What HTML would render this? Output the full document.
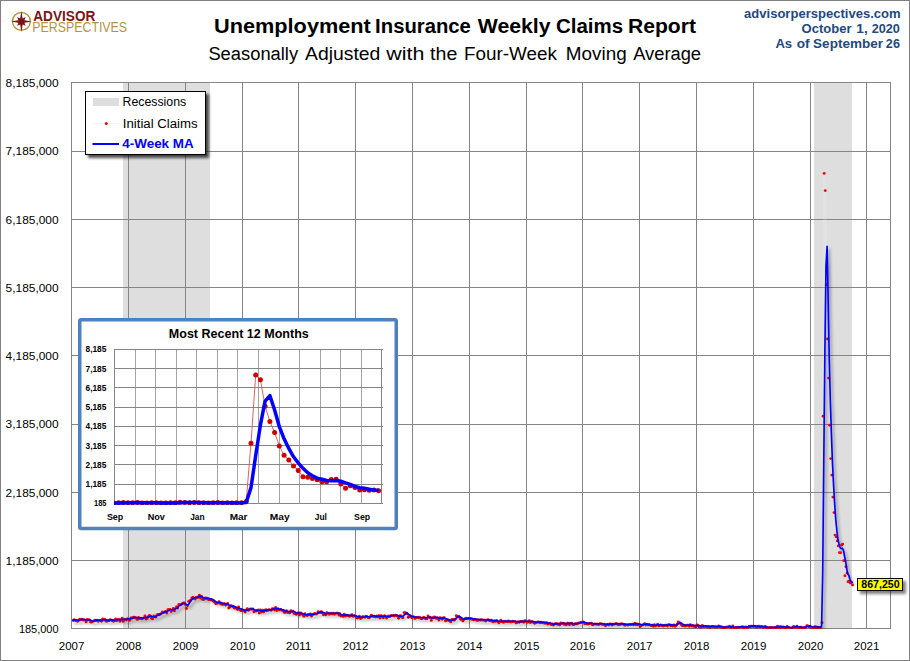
<!DOCTYPE html>
<html lang="en"><head><meta charset="utf-8"><title>Unemployment Insurance Weekly Claims Report</title>
<style>html,body{margin:0;padding:0;background:#fff}body{width:910px;height:661px;overflow:hidden}svg{display:block}text{font-family:"Liberation Sans",sans-serif}</style></head><body>
<svg width="910" height="661" viewBox="0 0 910 661">
<defs><filter id="sh" x="-5%" y="-5%" width="110%" height="115%"><feGaussianBlur in="SourceAlpha" stdDeviation="1.8"/><feOffset dx="2.3" dy="3.3"/><feComponentTransfer><feFuncA type="linear" slope="0.40"/></feComponentTransfer><feMerge><feMergeNode/><feMergeNode in="SourceGraphic"/></feMerge></filter><filter id="shb" x="-20%" y="-20%" width="150%" height="160%"><feGaussianBlur in="SourceAlpha" stdDeviation="1.6"/><feOffset dx="3" dy="3"/><feComponentTransfer><feFuncA type="linear" slope="0.7"/></feComponentTransfer><feMerge><feMergeNode/><feMergeNode in="SourceGraphic"/></feMerge></filter><filter id="shc" x="-20%" y="-40%" width="150%" height="220%"><feGaussianBlur in="SourceAlpha" stdDeviation="1.7"/><feOffset dx="3" dy="3"/><feComponentTransfer><feFuncA type="linear" slope="0.5"/></feComponentTransfer><feMerge><feMergeNode/><feMergeNode in="SourceGraphic"/></feMerge></filter><clipPath id="cp"><rect x="71" y="82" width="820" height="547"/></clipPath><clipPath id="ci"><rect x="114" y="345" width="269" height="160"/></clipPath></defs>
<rect x="0" y="0" width="910" height="661" fill="#fff"/>
<g fill="#dedede"><rect x="123" y="83" width="87" height="545"/><rect x="814" y="83" width="38" height="545"/></g>
<g fill="#858585" shape-rendering="crispEdges">
<rect x="71" y="82" width="1" height="547"/>
<rect x="128" y="82" width="1" height="547"/>
<rect x="185" y="82" width="1" height="547"/>
<rect x="242" y="82" width="1" height="547"/>
<rect x="298" y="82" width="1" height="547"/>
<rect x="355" y="82" width="1" height="547"/>
<rect x="412" y="82" width="1" height="547"/>
<rect x="469" y="82" width="1" height="547"/>
<rect x="526" y="82" width="1" height="547"/>
<rect x="582" y="82" width="1" height="547"/>
<rect x="639" y="82" width="1" height="547"/>
<rect x="696" y="82" width="1" height="547"/>
<rect x="753" y="82" width="1" height="547"/>
<rect x="810" y="82" width="1" height="547"/>
<rect x="866" y="82" width="1" height="547"/>
<rect x="890" y="82" width="1" height="547"/>
<rect x="71" y="82" width="820" height="1"/>
<rect x="71" y="151" width="820" height="1"/>
<rect x="71" y="219" width="820" height="1"/>
<rect x="71" y="287" width="820" height="1"/>
<rect x="71" y="355" width="820" height="1"/>
<rect x="71" y="424" width="820" height="1"/>
<rect x="71" y="492" width="820" height="1"/>
<rect x="71" y="560" width="820" height="1"/>
<rect x="71" y="628" width="820" height="1"/>
</g>
<g font-size="10.9px" fill="#000" text-anchor="end">
<text x="58.6" y="87.05" textLength="53.0" lengthAdjust="spacingAndGlyphs">8,185,000</text>
<text x="58.6" y="155.30" textLength="53.0" lengthAdjust="spacingAndGlyphs">7,185,000</text>
<text x="58.6" y="223.55" textLength="53.0" lengthAdjust="spacingAndGlyphs">6,185,000</text>
<text x="58.6" y="291.80" textLength="53.0" lengthAdjust="spacingAndGlyphs">5,185,000</text>
<text x="58.6" y="360.05" textLength="53.0" lengthAdjust="spacingAndGlyphs">4,185,000</text>
<text x="58.6" y="428.30" textLength="53.0" lengthAdjust="spacingAndGlyphs">3,185,000</text>
<text x="58.6" y="496.55" textLength="53.0" lengthAdjust="spacingAndGlyphs">2,185,000</text>
<text x="58.6" y="564.80" textLength="53.0" lengthAdjust="spacingAndGlyphs">1,185,000</text>
<text x="58.6" y="633.05" textLength="39.7" lengthAdjust="spacingAndGlyphs">185,000</text>
</g>
<g font-size="10.9px" fill="#000" text-anchor="middle">
<text x="71.6" y="649.8" textLength="25.6" lengthAdjust="spacingAndGlyphs">2007</text>
<text x="128.6" y="649.8" textLength="25.6" lengthAdjust="spacingAndGlyphs">2008</text>
<text x="185.6" y="649.8" textLength="25.6" lengthAdjust="spacingAndGlyphs">2009</text>
<text x="242.6" y="649.8" textLength="25.6" lengthAdjust="spacingAndGlyphs">2010</text>
<text x="298.6" y="649.8" textLength="25.6" lengthAdjust="spacingAndGlyphs">2011</text>
<text x="355.6" y="649.8" textLength="25.6" lengthAdjust="spacingAndGlyphs">2012</text>
<text x="412.6" y="649.8" textLength="25.6" lengthAdjust="spacingAndGlyphs">2013</text>
<text x="469.6" y="649.8" textLength="25.6" lengthAdjust="spacingAndGlyphs">2014</text>
<text x="526.6" y="649.8" textLength="25.6" lengthAdjust="spacingAndGlyphs">2015</text>
<text x="582.6" y="649.8" textLength="25.6" lengthAdjust="spacingAndGlyphs">2016</text>
<text x="639.6" y="649.8" textLength="25.6" lengthAdjust="spacingAndGlyphs">2017</text>
<text x="696.6" y="649.8" textLength="25.6" lengthAdjust="spacingAndGlyphs">2018</text>
<text x="753.6" y="649.8" textLength="25.6" lengthAdjust="spacingAndGlyphs">2019</text>
<text x="810.6" y="649.8" textLength="25.6" lengthAdjust="spacingAndGlyphs">2020</text>
<text x="866.6" y="649.8" textLength="25.6" lengthAdjust="spacingAndGlyphs">2021</text>
</g>
<g clip-path="url(#cp)">
<polyline points="73.2,620.6 74.3,619.8 75.4,620.5 76.4,620.6 77.5,621.2 78.6,620.5 79.7,619.3 80.8,619.9 81.9,619.3 83.0,620.1 84.1,619.9 85.2,620.1 86.2,621.9 87.3,619.5 88.4,619.9 89.5,619.9 90.6,622.1 91.7,622.1 92.8,621.4 93.9,621.0 94.9,620.3 96.0,620.6 97.1,620.1 98.2,621.3 99.3,620.4 100.4,620.4 101.5,621.3 102.6,619.0 103.7,620.1 104.7,619.4 105.8,621.1 106.9,621.2 108.0,620.8 109.1,620.5 110.2,619.8 111.3,620.1 112.4,620.7 113.4,621.2 114.5,620.7 115.6,619.0 116.7,620.8 117.8,619.7 118.9,619.4 120.0,621.2 121.1,619.6 122.2,618.3 123.2,621.4 124.3,619.7 125.4,619.4 126.5,620.0 127.6,618.6 128.7,619.1 129.8,620.3 130.9,618.0 132.0,618.0 133.0,617.7 134.1,617.1 135.2,618.0 136.3,618.1 137.4,619.4 138.5,617.4 139.6,618.5 140.7,618.2 141.7,618.8 142.8,618.4 143.9,617.9 145.0,616.0 146.1,619.1 147.2,618.4 148.3,616.6 149.4,615.4 150.5,616.1 151.5,618.3 152.6,618.7 153.7,615.9 154.8,616.8 155.9,617.0 157.0,614.9 158.1,614.4 159.2,614.8 160.3,614.3 161.3,613.6 162.4,612.0 163.5,612.5 164.6,612.1 165.7,611.5 166.8,613.0 167.9,609.8 169.0,609.6 170.0,609.4 171.1,611.6 172.2,610.1 173.3,608.4 174.4,610.7 175.5,608.6 176.6,606.6 177.7,608.1 178.8,604.5 179.8,604.8 180.9,604.9 182.0,603.9 183.1,603.1 184.2,603.0 185.3,604.4 186.4,608.5 187.5,605.6 188.6,601.4 189.6,601.0 190.7,600.4 191.8,598.1 192.9,597.1 194.0,598.5 195.1,599.0 196.2,597.5 197.3,597.3 198.3,597.2 199.4,595.3 200.5,598.1 201.6,596.5 202.7,599.4 203.8,599.4 204.9,598.3 206.0,598.0 207.1,598.5 208.1,599.2 209.2,599.6 210.3,599.7 211.4,599.5 212.5,600.4 213.6,601.2 214.7,602.1 215.8,603.8 216.9,603.0 217.9,603.1 219.0,601.6 220.1,603.2 221.2,604.1 222.3,604.3 223.4,604.2 224.5,603.6 225.6,605.0 226.6,604.6 227.7,603.5 228.8,608.0 229.9,606.9 231.0,605.8 232.1,606.1 233.2,606.8 234.3,608.0 235.4,607.5 236.4,608.4 237.5,609.5 238.6,607.0 239.7,609.3 240.8,610.5 241.9,610.4 243.0,610.3 244.1,610.1 245.1,612.1 246.2,610.1 247.3,608.8 248.4,610.4 249.5,609.6 250.6,608.9 251.7,609.2 252.8,608.9 253.9,611.8 254.9,610.9 256.0,611.1 257.1,610.5 258.2,610.0 259.3,613.1 260.4,610.0 261.5,612.0 262.6,610.2 263.7,611.9 264.7,610.5 265.8,609.7 266.9,610.7 268.0,610.3 269.1,609.7 270.2,610.1 271.3,610.2 272.4,608.7 273.4,609.0 274.5,610.0 275.6,607.4 276.7,610.5 277.8,608.7 278.9,609.9 280.0,609.9 281.1,609.7 282.2,610.4 283.2,610.4 284.3,612.3 285.4,612.4 286.5,610.8 287.6,612.2 288.7,612.3 289.8,612.8 290.9,610.8 292.0,611.6 293.0,611.3 294.1,613.6 295.2,613.1 296.3,614.4 297.4,613.1 298.5,612.7 299.6,614.9 300.7,613.0 301.7,613.6 302.8,614.7 303.9,616.3 305.0,613.7 306.1,615.1 307.2,615.6 308.3,614.8 309.4,614.9 310.5,614.0 311.5,616.1 312.6,614.4 313.7,614.2 314.8,613.5 315.9,614.1 317.0,613.9 318.1,611.7 319.2,612.5 320.3,612.6 321.3,611.6 322.4,613.0 323.5,614.8 324.6,613.4 325.7,614.8 326.8,612.7 327.9,613.3 329.0,614.2 330.0,613.9 331.1,613.3 332.2,614.1 333.3,613.1 334.4,614.3 335.5,613.5 336.6,613.1 337.7,613.1 338.8,615.0 339.8,613.8 340.9,616.1 342.0,615.5 343.1,616.4 344.2,614.1 345.3,616.1 346.4,615.3 347.5,615.6 348.6,615.7 349.6,616.3 350.7,615.8 351.8,614.7 352.9,616.3 354.0,616.1 355.1,615.9 356.2,617.0 357.3,618.0 358.3,617.5 359.4,616.3 360.5,618.6 361.6,617.9 362.7,616.7 363.8,616.9 364.9,617.3 366.0,616.4 367.1,616.7 368.1,617.6 369.2,617.7 370.3,616.7 371.4,615.2 372.5,616.2 373.6,616.5 374.7,616.5 375.8,617.1 376.8,616.0 377.9,616.9 379.0,615.7 380.1,618.0 381.2,615.8 382.3,616.7 383.4,617.8 384.5,615.6 385.6,616.5 386.6,618.1 387.7,616.9 388.8,616.0 389.9,616.6 391.0,615.6 392.1,615.6 393.2,615.7 394.3,616.0 395.4,615.1 396.4,615.7 397.5,616.0 398.6,618.3 399.7,616.0 400.8,615.8 401.9,617.3 403.0,617.6 404.1,612.7 405.1,612.7 406.2,613.2 407.3,614.0 408.4,617.2 409.5,616.4 410.6,615.9 411.7,617.6 412.8,617.1 413.9,616.9 414.9,618.4 416.0,617.8 417.1,617.5 418.2,617.1 419.3,617.9 420.4,618.0 421.5,618.8 422.6,618.3 423.7,617.3 424.7,618.0 425.8,618.8 426.9,618.8 428.0,616.0 429.1,617.3 430.2,617.7 431.3,620.4 432.4,617.8 433.4,617.9 434.5,616.9 435.6,618.0 436.7,618.4 437.8,618.0 438.9,620.0 440.0,617.6 441.1,618.2 442.2,619.3 443.2,617.9 444.3,617.8 445.4,620.7 446.5,620.4 447.6,619.8 448.7,620.2 449.8,621.0 450.9,621.7 452.0,619.5 453.0,619.4 454.1,620.2 455.2,619.3 456.3,615.8 457.4,616.7 458.5,616.4 459.6,617.5 460.7,619.2 461.7,618.7 462.8,620.9 463.9,619.5 465.0,618.8 466.1,618.1 467.2,618.9 468.3,618.6 469.4,618.4 470.5,618.9 471.5,619.0 472.6,619.4 473.7,619.8 474.8,619.2 475.9,619.7 477.0,620.3 478.1,620.2 479.2,619.9 480.3,620.0 481.3,619.9 482.4,620.1 483.5,620.1 484.6,620.3 485.7,621.1 486.8,620.1 487.9,619.8 489.0,620.2 490.0,620.7 491.1,620.3 492.2,621.3 493.3,621.9 494.4,620.8 495.5,621.4 496.6,620.5 497.7,621.6 498.8,622.7 499.8,621.8 500.9,620.3 502.0,621.6 503.1,622.3 504.2,622.0 505.3,621.3 506.4,621.4 507.5,621.7 508.5,621.0 509.6,621.6 510.7,622.1 511.8,621.8 512.9,621.2 514.0,621.6 515.1,621.6 516.2,622.9 517.3,622.3 518.3,621.7 519.4,622.3 520.5,621.5 521.6,621.8 522.7,621.6 523.8,622.3 524.9,620.6 526.0,621.3 527.1,622.2 528.1,622.1 529.2,620.6 530.3,622.5 531.4,621.8 532.5,621.8 533.6,622.4 534.7,623.2 535.8,622.4 536.8,622.4 537.9,621.9 539.0,622.2 540.1,622.7 541.2,622.3 542.3,622.6 543.4,622.9 544.5,623.0 545.6,623.3 546.6,622.8 547.7,624.0 548.8,623.8 549.9,623.5 551.0,624.5 552.1,624.0 553.2,625.0 554.3,624.3 555.4,623.6 556.4,623.7 557.5,624.2 558.6,624.2 559.7,624.9 560.8,622.9 561.9,623.6 563.0,623.2 564.1,624.4 565.1,623.9 566.2,624.9 567.3,623.2 568.4,623.1 569.5,624.7 570.6,623.6 571.7,623.1 572.8,624.5 573.9,624.5 574.9,624.0 576.0,623.7 577.1,624.1 578.2,623.1 579.3,623.0 580.4,622.7 581.5,622.6 582.6,622.0 583.7,622.2 584.7,623.8 585.8,623.4 586.9,623.9 588.0,624.0 589.1,623.5 590.2,623.5 591.3,623.3 592.4,624.7 593.4,624.5 594.5,623.9 595.6,624.1 596.7,624.3 597.8,624.2 598.9,624.6 600.0,623.7 601.1,623.9 602.2,624.2 603.2,624.6 604.3,624.3 605.4,625.8 606.5,624.7 607.6,624.1 608.7,625.1 609.8,624.0 610.9,624.1 612.0,625.0 613.0,624.3 614.1,624.3 615.2,623.9 616.3,623.8 617.4,624.2 618.5,624.7 619.6,624.3 620.7,624.3 621.7,623.8 622.8,624.1 623.9,624.8 625.0,625.2 626.1,624.6 627.2,624.9 628.3,625.1 629.4,624.5 630.5,624.8 631.5,624.5 632.6,624.2 633.7,624.8 634.8,623.2 635.9,624.8 637.0,624.0 638.1,624.7 639.2,624.1 640.2,626.4 641.3,625.4 642.4,624.9 643.5,624.7 644.6,623.7 645.7,625.0 646.8,624.5 647.9,624.9 649.0,624.8 650.0,625.1 651.1,625.6 652.2,625.2 653.3,626.2 654.4,624.8 655.5,626.1 656.6,625.4 657.7,624.2 658.8,625.7 659.8,625.6 660.9,624.9 662.0,625.6 663.1,626.1 664.2,625.5 665.3,625.3 666.4,625.2 667.5,626.1 668.5,624.6 669.6,624.7 670.7,625.7 671.8,625.6 672.9,626.0 674.0,624.9 675.1,626.2 676.2,625.4 677.3,624.0 678.3,622.0 679.4,622.6 680.5,623.8 681.6,625.1 682.7,625.8 683.8,625.2 684.9,626.0 686.0,625.8 687.1,625.1 688.1,625.3 689.2,626.3 690.3,624.6 691.4,626.0 692.5,625.5 693.6,626.4 694.7,626.0 695.8,627.1 696.8,624.9 697.9,625.2 699.0,626.8 700.1,627.1 701.2,627.2 702.3,625.5 703.4,626.6 704.5,626.4 705.6,626.6 706.6,626.5 707.7,627.2 708.8,626.5 709.9,627.5 711.0,626.7 712.1,626.5 713.2,626.5 714.3,626.9 715.4,627.4 716.4,626.8 717.5,627.2 718.6,626.0 719.7,626.6 720.8,627.2 721.9,627.4 723.0,627.6 724.1,627.8 725.1,627.5 726.2,627.1 727.3,627.0 728.4,627.1 729.5,626.2 730.6,627.9 731.7,627.5 732.8,625.9 733.9,628.8 734.9,628.0 736.0,627.5 737.1,627.4 738.2,627.2 739.3,627.5 740.4,627.1 741.5,627.2 742.6,626.7 743.7,628.2 744.7,627.5 745.8,626.9 746.9,627.5 748.0,627.4 749.1,626.3 750.2,627.0 751.3,626.2 752.4,626.1 753.4,626.4 754.5,626.2 755.6,626.6 756.7,627.4 757.8,626.5 758.9,626.2 760.0,627.0 761.1,626.9 762.2,626.6 763.2,627.8 764.3,627.0 765.4,626.5 766.5,628.2 767.6,627.9 768.7,628.3 769.8,627.4 770.9,628.0 771.9,627.5 773.0,628.3 774.1,627.7 775.2,627.5 776.3,628.4 777.4,626.3 778.5,626.6 779.6,628.3 780.7,626.8 781.7,627.4 782.8,627.0 783.9,627.1 785.0,628.3 786.1,627.5 787.2,626.5 788.3,627.8 789.4,628.1 790.5,628.4 791.5,628.3 792.6,627.4 793.7,626.5 794.8,627.3 795.9,627.4 797.0,626.2 798.1,627.9 799.2,628.0 800.2,627.2 801.3,627.2 802.4,628.2 803.5,628.3 804.6,627.4 805.7,627.4 806.8,625.8 807.9,625.9 809.0,627.0 810.0,626.7 811.1,627.3 812.2,627.6 813.3,627.9 814.4,627.0 815.5,626.8 816.6,627.9 817.7,627.1 818.8,628.1 819.8,627.6 820.9,627.2 822.0,622.8 823.1,416.3 824.2,173.4 825.3,190.6 826.4,284.6 827.5,338.9 828.5,378.1 829.6,425.3 830.7,458.6 831.8,475.1 832.9,497.1 834.0,512.6 835.1,535.1 836.2,536.9 837.3,540.9 838.3,545.9 839.4,552.6 840.5,552.8 841.6,545.0 842.7,544.1 843.8,560.7 844.9,575.8 846.0,566.7 847.1,573.0 848.1,581.7 849.2,581.1 850.3,582.9 851.4,582.4 852.5,584.9" fill="none" stroke="#ffffff" stroke-opacity="0.14" stroke-width="2.4" stroke-linejoin="round"/>
<g fill="#ff0000">
<circle cx="73.2" cy="620.6" r="1.45"/>
<circle cx="74.3" cy="619.8" r="1.45"/>
<circle cx="75.4" cy="620.5" r="1.45"/>
<circle cx="76.4" cy="620.6" r="1.45"/>
<circle cx="77.5" cy="621.2" r="1.45"/>
<circle cx="78.6" cy="620.5" r="1.45"/>
<circle cx="79.7" cy="619.3" r="1.45"/>
<circle cx="80.8" cy="619.9" r="1.45"/>
<circle cx="81.9" cy="619.3" r="1.45"/>
<circle cx="83.0" cy="620.1" r="1.45"/>
<circle cx="84.1" cy="619.9" r="1.45"/>
<circle cx="85.2" cy="620.1" r="1.45"/>
<circle cx="86.2" cy="621.9" r="1.45"/>
<circle cx="87.3" cy="619.5" r="1.45"/>
<circle cx="88.4" cy="619.9" r="1.45"/>
<circle cx="89.5" cy="619.9" r="1.45"/>
<circle cx="90.6" cy="622.1" r="1.45"/>
<circle cx="91.7" cy="622.1" r="1.45"/>
<circle cx="92.8" cy="621.4" r="1.45"/>
<circle cx="93.9" cy="621.0" r="1.45"/>
<circle cx="94.9" cy="620.3" r="1.45"/>
<circle cx="96.0" cy="620.6" r="1.45"/>
<circle cx="97.1" cy="620.1" r="1.45"/>
<circle cx="98.2" cy="621.3" r="1.45"/>
<circle cx="99.3" cy="620.4" r="1.45"/>
<circle cx="100.4" cy="620.4" r="1.45"/>
<circle cx="101.5" cy="621.3" r="1.45"/>
<circle cx="102.6" cy="619.0" r="1.45"/>
<circle cx="103.7" cy="620.1" r="1.45"/>
<circle cx="104.7" cy="619.4" r="1.45"/>
<circle cx="105.8" cy="621.1" r="1.45"/>
<circle cx="106.9" cy="621.2" r="1.45"/>
<circle cx="108.0" cy="620.8" r="1.45"/>
<circle cx="109.1" cy="620.5" r="1.45"/>
<circle cx="110.2" cy="619.8" r="1.45"/>
<circle cx="111.3" cy="620.1" r="1.45"/>
<circle cx="112.4" cy="620.7" r="1.45"/>
<circle cx="113.4" cy="621.2" r="1.45"/>
<circle cx="114.5" cy="620.7" r="1.45"/>
<circle cx="115.6" cy="619.0" r="1.45"/>
<circle cx="116.7" cy="620.8" r="1.45"/>
<circle cx="117.8" cy="619.7" r="1.45"/>
<circle cx="118.9" cy="619.4" r="1.45"/>
<circle cx="120.0" cy="621.2" r="1.45"/>
<circle cx="121.1" cy="619.6" r="1.45"/>
<circle cx="122.2" cy="618.3" r="1.45"/>
<circle cx="123.2" cy="621.4" r="1.45"/>
<circle cx="124.3" cy="619.7" r="1.45"/>
<circle cx="125.4" cy="619.4" r="1.45"/>
<circle cx="126.5" cy="620.0" r="1.45"/>
<circle cx="127.6" cy="618.6" r="1.45"/>
<circle cx="128.7" cy="619.1" r="1.45"/>
<circle cx="129.8" cy="620.3" r="1.45"/>
<circle cx="130.9" cy="618.0" r="1.45"/>
<circle cx="132.0" cy="618.0" r="1.45"/>
<circle cx="133.0" cy="617.7" r="1.45"/>
<circle cx="134.1" cy="617.1" r="1.45"/>
<circle cx="135.2" cy="618.0" r="1.45"/>
<circle cx="136.3" cy="618.1" r="1.45"/>
<circle cx="137.4" cy="619.4" r="1.45"/>
<circle cx="138.5" cy="617.4" r="1.45"/>
<circle cx="139.6" cy="618.5" r="1.45"/>
<circle cx="140.7" cy="618.2" r="1.45"/>
<circle cx="141.7" cy="618.8" r="1.45"/>
<circle cx="142.8" cy="618.4" r="1.45"/>
<circle cx="143.9" cy="617.9" r="1.45"/>
<circle cx="145.0" cy="616.0" r="1.45"/>
<circle cx="146.1" cy="619.1" r="1.45"/>
<circle cx="147.2" cy="618.4" r="1.45"/>
<circle cx="148.3" cy="616.6" r="1.45"/>
<circle cx="149.4" cy="615.4" r="1.45"/>
<circle cx="150.5" cy="616.1" r="1.45"/>
<circle cx="151.5" cy="618.3" r="1.45"/>
<circle cx="152.6" cy="618.7" r="1.45"/>
<circle cx="153.7" cy="615.9" r="1.45"/>
<circle cx="154.8" cy="616.8" r="1.45"/>
<circle cx="155.9" cy="617.0" r="1.45"/>
<circle cx="157.0" cy="614.9" r="1.45"/>
<circle cx="158.1" cy="614.4" r="1.45"/>
<circle cx="159.2" cy="614.8" r="1.45"/>
<circle cx="160.3" cy="614.3" r="1.45"/>
<circle cx="161.3" cy="613.6" r="1.45"/>
<circle cx="162.4" cy="612.0" r="1.45"/>
<circle cx="163.5" cy="612.5" r="1.45"/>
<circle cx="164.6" cy="612.1" r="1.45"/>
<circle cx="165.7" cy="611.5" r="1.45"/>
<circle cx="166.8" cy="613.0" r="1.45"/>
<circle cx="167.9" cy="609.8" r="1.45"/>
<circle cx="169.0" cy="609.6" r="1.45"/>
<circle cx="170.0" cy="609.4" r="1.45"/>
<circle cx="171.1" cy="611.6" r="1.45"/>
<circle cx="172.2" cy="610.1" r="1.45"/>
<circle cx="173.3" cy="608.4" r="1.45"/>
<circle cx="174.4" cy="610.7" r="1.45"/>
<circle cx="175.5" cy="608.6" r="1.45"/>
<circle cx="176.6" cy="606.6" r="1.45"/>
<circle cx="177.7" cy="608.1" r="1.45"/>
<circle cx="178.8" cy="604.5" r="1.45"/>
<circle cx="179.8" cy="604.8" r="1.45"/>
<circle cx="180.9" cy="604.9" r="1.45"/>
<circle cx="182.0" cy="603.9" r="1.45"/>
<circle cx="183.1" cy="603.1" r="1.45"/>
<circle cx="184.2" cy="603.0" r="1.45"/>
<circle cx="185.3" cy="604.4" r="1.45"/>
<circle cx="186.4" cy="608.5" r="1.45"/>
<circle cx="187.5" cy="605.6" r="1.45"/>
<circle cx="188.6" cy="601.4" r="1.45"/>
<circle cx="189.6" cy="601.0" r="1.45"/>
<circle cx="190.7" cy="600.4" r="1.45"/>
<circle cx="191.8" cy="598.1" r="1.45"/>
<circle cx="192.9" cy="597.1" r="1.45"/>
<circle cx="194.0" cy="598.5" r="1.45"/>
<circle cx="195.1" cy="599.0" r="1.45"/>
<circle cx="196.2" cy="597.5" r="1.45"/>
<circle cx="197.3" cy="597.3" r="1.45"/>
<circle cx="198.3" cy="597.2" r="1.45"/>
<circle cx="199.4" cy="595.3" r="1.45"/>
<circle cx="200.5" cy="598.1" r="1.45"/>
<circle cx="201.6" cy="596.5" r="1.45"/>
<circle cx="202.7" cy="599.4" r="1.45"/>
<circle cx="203.8" cy="599.4" r="1.45"/>
<circle cx="204.9" cy="598.3" r="1.45"/>
<circle cx="206.0" cy="598.0" r="1.45"/>
<circle cx="207.1" cy="598.5" r="1.45"/>
<circle cx="208.1" cy="599.2" r="1.45"/>
<circle cx="209.2" cy="599.6" r="1.45"/>
<circle cx="210.3" cy="599.7" r="1.45"/>
<circle cx="211.4" cy="599.5" r="1.45"/>
<circle cx="212.5" cy="600.4" r="1.45"/>
<circle cx="213.6" cy="601.2" r="1.45"/>
<circle cx="214.7" cy="602.1" r="1.45"/>
<circle cx="215.8" cy="603.8" r="1.45"/>
<circle cx="216.9" cy="603.0" r="1.45"/>
<circle cx="217.9" cy="603.1" r="1.45"/>
<circle cx="219.0" cy="601.6" r="1.45"/>
<circle cx="220.1" cy="603.2" r="1.45"/>
<circle cx="221.2" cy="604.1" r="1.45"/>
<circle cx="222.3" cy="604.3" r="1.45"/>
<circle cx="223.4" cy="604.2" r="1.45"/>
<circle cx="224.5" cy="603.6" r="1.45"/>
<circle cx="225.6" cy="605.0" r="1.45"/>
<circle cx="226.6" cy="604.6" r="1.45"/>
<circle cx="227.7" cy="603.5" r="1.45"/>
<circle cx="228.8" cy="608.0" r="1.45"/>
<circle cx="229.9" cy="606.9" r="1.45"/>
<circle cx="231.0" cy="605.8" r="1.45"/>
<circle cx="232.1" cy="606.1" r="1.45"/>
<circle cx="233.2" cy="606.8" r="1.45"/>
<circle cx="234.3" cy="608.0" r="1.45"/>
<circle cx="235.4" cy="607.5" r="1.45"/>
<circle cx="236.4" cy="608.4" r="1.45"/>
<circle cx="237.5" cy="609.5" r="1.45"/>
<circle cx="238.6" cy="607.0" r="1.45"/>
<circle cx="239.7" cy="609.3" r="1.45"/>
<circle cx="240.8" cy="610.5" r="1.45"/>
<circle cx="241.9" cy="610.4" r="1.45"/>
<circle cx="243.0" cy="610.3" r="1.45"/>
<circle cx="244.1" cy="610.1" r="1.45"/>
<circle cx="245.1" cy="612.1" r="1.45"/>
<circle cx="246.2" cy="610.1" r="1.45"/>
<circle cx="247.3" cy="608.8" r="1.45"/>
<circle cx="248.4" cy="610.4" r="1.45"/>
<circle cx="249.5" cy="609.6" r="1.45"/>
<circle cx="250.6" cy="608.9" r="1.45"/>
<circle cx="251.7" cy="609.2" r="1.45"/>
<circle cx="252.8" cy="608.9" r="1.45"/>
<circle cx="253.9" cy="611.8" r="1.45"/>
<circle cx="254.9" cy="610.9" r="1.45"/>
<circle cx="256.0" cy="611.1" r="1.45"/>
<circle cx="257.1" cy="610.5" r="1.45"/>
<circle cx="258.2" cy="610.0" r="1.45"/>
<circle cx="259.3" cy="613.1" r="1.45"/>
<circle cx="260.4" cy="610.0" r="1.45"/>
<circle cx="261.5" cy="612.0" r="1.45"/>
<circle cx="262.6" cy="610.2" r="1.45"/>
<circle cx="263.7" cy="611.9" r="1.45"/>
<circle cx="264.7" cy="610.5" r="1.45"/>
<circle cx="265.8" cy="609.7" r="1.45"/>
<circle cx="266.9" cy="610.7" r="1.45"/>
<circle cx="268.0" cy="610.3" r="1.45"/>
<circle cx="269.1" cy="609.7" r="1.45"/>
<circle cx="270.2" cy="610.1" r="1.45"/>
<circle cx="271.3" cy="610.2" r="1.45"/>
<circle cx="272.4" cy="608.7" r="1.45"/>
<circle cx="273.4" cy="609.0" r="1.45"/>
<circle cx="274.5" cy="610.0" r="1.45"/>
<circle cx="275.6" cy="607.4" r="1.45"/>
<circle cx="276.7" cy="610.5" r="1.45"/>
<circle cx="277.8" cy="608.7" r="1.45"/>
<circle cx="278.9" cy="609.9" r="1.45"/>
<circle cx="280.0" cy="609.9" r="1.45"/>
<circle cx="281.1" cy="609.7" r="1.45"/>
<circle cx="282.2" cy="610.4" r="1.45"/>
<circle cx="283.2" cy="610.4" r="1.45"/>
<circle cx="284.3" cy="612.3" r="1.45"/>
<circle cx="285.4" cy="612.4" r="1.45"/>
<circle cx="286.5" cy="610.8" r="1.45"/>
<circle cx="287.6" cy="612.2" r="1.45"/>
<circle cx="288.7" cy="612.3" r="1.45"/>
<circle cx="289.8" cy="612.8" r="1.45"/>
<circle cx="290.9" cy="610.8" r="1.45"/>
<circle cx="292.0" cy="611.6" r="1.45"/>
<circle cx="293.0" cy="611.3" r="1.45"/>
<circle cx="294.1" cy="613.6" r="1.45"/>
<circle cx="295.2" cy="613.1" r="1.45"/>
<circle cx="296.3" cy="614.4" r="1.45"/>
<circle cx="297.4" cy="613.1" r="1.45"/>
<circle cx="298.5" cy="612.7" r="1.45"/>
<circle cx="299.6" cy="614.9" r="1.45"/>
<circle cx="300.7" cy="613.0" r="1.45"/>
<circle cx="301.7" cy="613.6" r="1.45"/>
<circle cx="302.8" cy="614.7" r="1.45"/>
<circle cx="303.9" cy="616.3" r="1.45"/>
<circle cx="305.0" cy="613.7" r="1.45"/>
<circle cx="306.1" cy="615.1" r="1.45"/>
<circle cx="307.2" cy="615.6" r="1.45"/>
<circle cx="308.3" cy="614.8" r="1.45"/>
<circle cx="309.4" cy="614.9" r="1.45"/>
<circle cx="310.5" cy="614.0" r="1.45"/>
<circle cx="311.5" cy="616.1" r="1.45"/>
<circle cx="312.6" cy="614.4" r="1.45"/>
<circle cx="313.7" cy="614.2" r="1.45"/>
<circle cx="314.8" cy="613.5" r="1.45"/>
<circle cx="315.9" cy="614.1" r="1.45"/>
<circle cx="317.0" cy="613.9" r="1.45"/>
<circle cx="318.1" cy="611.7" r="1.45"/>
<circle cx="319.2" cy="612.5" r="1.45"/>
<circle cx="320.3" cy="612.6" r="1.45"/>
<circle cx="321.3" cy="611.6" r="1.45"/>
<circle cx="322.4" cy="613.0" r="1.45"/>
<circle cx="323.5" cy="614.8" r="1.45"/>
<circle cx="324.6" cy="613.4" r="1.45"/>
<circle cx="325.7" cy="614.8" r="1.45"/>
<circle cx="326.8" cy="612.7" r="1.45"/>
<circle cx="327.9" cy="613.3" r="1.45"/>
<circle cx="329.0" cy="614.2" r="1.45"/>
<circle cx="330.0" cy="613.9" r="1.45"/>
<circle cx="331.1" cy="613.3" r="1.45"/>
<circle cx="332.2" cy="614.1" r="1.45"/>
<circle cx="333.3" cy="613.1" r="1.45"/>
<circle cx="334.4" cy="614.3" r="1.45"/>
<circle cx="335.5" cy="613.5" r="1.45"/>
<circle cx="336.6" cy="613.1" r="1.45"/>
<circle cx="337.7" cy="613.1" r="1.45"/>
<circle cx="338.8" cy="615.0" r="1.45"/>
<circle cx="339.8" cy="613.8" r="1.45"/>
<circle cx="340.9" cy="616.1" r="1.45"/>
<circle cx="342.0" cy="615.5" r="1.45"/>
<circle cx="343.1" cy="616.4" r="1.45"/>
<circle cx="344.2" cy="614.1" r="1.45"/>
<circle cx="345.3" cy="616.1" r="1.45"/>
<circle cx="346.4" cy="615.3" r="1.45"/>
<circle cx="347.5" cy="615.6" r="1.45"/>
<circle cx="348.6" cy="615.7" r="1.45"/>
<circle cx="349.6" cy="616.3" r="1.45"/>
<circle cx="350.7" cy="615.8" r="1.45"/>
<circle cx="351.8" cy="614.7" r="1.45"/>
<circle cx="352.9" cy="616.3" r="1.45"/>
<circle cx="354.0" cy="616.1" r="1.45"/>
<circle cx="355.1" cy="615.9" r="1.45"/>
<circle cx="356.2" cy="617.0" r="1.45"/>
<circle cx="357.3" cy="618.0" r="1.45"/>
<circle cx="358.3" cy="617.5" r="1.45"/>
<circle cx="359.4" cy="616.3" r="1.45"/>
<circle cx="360.5" cy="618.6" r="1.45"/>
<circle cx="361.6" cy="617.9" r="1.45"/>
<circle cx="362.7" cy="616.7" r="1.45"/>
<circle cx="363.8" cy="616.9" r="1.45"/>
<circle cx="364.9" cy="617.3" r="1.45"/>
<circle cx="366.0" cy="616.4" r="1.45"/>
<circle cx="367.1" cy="616.7" r="1.45"/>
<circle cx="368.1" cy="617.6" r="1.45"/>
<circle cx="369.2" cy="617.7" r="1.45"/>
<circle cx="370.3" cy="616.7" r="1.45"/>
<circle cx="371.4" cy="615.2" r="1.45"/>
<circle cx="372.5" cy="616.2" r="1.45"/>
<circle cx="373.6" cy="616.5" r="1.45"/>
<circle cx="374.7" cy="616.5" r="1.45"/>
<circle cx="375.8" cy="617.1" r="1.45"/>
<circle cx="376.8" cy="616.0" r="1.45"/>
<circle cx="377.9" cy="616.9" r="1.45"/>
<circle cx="379.0" cy="615.7" r="1.45"/>
<circle cx="380.1" cy="618.0" r="1.45"/>
<circle cx="381.2" cy="615.8" r="1.45"/>
<circle cx="382.3" cy="616.7" r="1.45"/>
<circle cx="383.4" cy="617.8" r="1.45"/>
<circle cx="384.5" cy="615.6" r="1.45"/>
<circle cx="385.6" cy="616.5" r="1.45"/>
<circle cx="386.6" cy="618.1" r="1.45"/>
<circle cx="387.7" cy="616.9" r="1.45"/>
<circle cx="388.8" cy="616.0" r="1.45"/>
<circle cx="389.9" cy="616.6" r="1.45"/>
<circle cx="391.0" cy="615.6" r="1.45"/>
<circle cx="392.1" cy="615.6" r="1.45"/>
<circle cx="393.2" cy="615.7" r="1.45"/>
<circle cx="394.3" cy="616.0" r="1.45"/>
<circle cx="395.4" cy="615.1" r="1.45"/>
<circle cx="396.4" cy="615.7" r="1.45"/>
<circle cx="397.5" cy="616.0" r="1.45"/>
<circle cx="398.6" cy="618.3" r="1.45"/>
<circle cx="399.7" cy="616.0" r="1.45"/>
<circle cx="400.8" cy="615.8" r="1.45"/>
<circle cx="401.9" cy="617.3" r="1.45"/>
<circle cx="403.0" cy="617.6" r="1.45"/>
<circle cx="404.1" cy="612.7" r="1.45"/>
<circle cx="405.1" cy="612.7" r="1.45"/>
<circle cx="406.2" cy="613.2" r="1.45"/>
<circle cx="407.3" cy="614.0" r="1.45"/>
<circle cx="408.4" cy="617.2" r="1.45"/>
<circle cx="409.5" cy="616.4" r="1.45"/>
<circle cx="410.6" cy="615.9" r="1.45"/>
<circle cx="411.7" cy="617.6" r="1.45"/>
<circle cx="412.8" cy="617.1" r="1.45"/>
<circle cx="413.9" cy="616.9" r="1.45"/>
<circle cx="414.9" cy="618.4" r="1.45"/>
<circle cx="416.0" cy="617.8" r="1.45"/>
<circle cx="417.1" cy="617.5" r="1.45"/>
<circle cx="418.2" cy="617.1" r="1.45"/>
<circle cx="419.3" cy="617.9" r="1.45"/>
<circle cx="420.4" cy="618.0" r="1.45"/>
<circle cx="421.5" cy="618.8" r="1.45"/>
<circle cx="422.6" cy="618.3" r="1.45"/>
<circle cx="423.7" cy="617.3" r="1.45"/>
<circle cx="424.7" cy="618.0" r="1.45"/>
<circle cx="425.8" cy="618.8" r="1.45"/>
<circle cx="426.9" cy="618.8" r="1.45"/>
<circle cx="428.0" cy="616.0" r="1.45"/>
<circle cx="429.1" cy="617.3" r="1.45"/>
<circle cx="430.2" cy="617.7" r="1.45"/>
<circle cx="431.3" cy="620.4" r="1.45"/>
<circle cx="432.4" cy="617.8" r="1.45"/>
<circle cx="433.4" cy="617.9" r="1.45"/>
<circle cx="434.5" cy="616.9" r="1.45"/>
<circle cx="435.6" cy="618.0" r="1.45"/>
<circle cx="436.7" cy="618.4" r="1.45"/>
<circle cx="437.8" cy="618.0" r="1.45"/>
<circle cx="438.9" cy="620.0" r="1.45"/>
<circle cx="440.0" cy="617.6" r="1.45"/>
<circle cx="441.1" cy="618.2" r="1.45"/>
<circle cx="442.2" cy="619.3" r="1.45"/>
<circle cx="443.2" cy="617.9" r="1.45"/>
<circle cx="444.3" cy="617.8" r="1.45"/>
<circle cx="445.4" cy="620.7" r="1.45"/>
<circle cx="446.5" cy="620.4" r="1.45"/>
<circle cx="447.6" cy="619.8" r="1.45"/>
<circle cx="448.7" cy="620.2" r="1.45"/>
<circle cx="449.8" cy="621.0" r="1.45"/>
<circle cx="450.9" cy="621.7" r="1.45"/>
<circle cx="452.0" cy="619.5" r="1.45"/>
<circle cx="453.0" cy="619.4" r="1.45"/>
<circle cx="454.1" cy="620.2" r="1.45"/>
<circle cx="455.2" cy="619.3" r="1.45"/>
<circle cx="456.3" cy="615.8" r="1.45"/>
<circle cx="457.4" cy="616.7" r="1.45"/>
<circle cx="458.5" cy="616.4" r="1.45"/>
<circle cx="459.6" cy="617.5" r="1.45"/>
<circle cx="460.7" cy="619.2" r="1.45"/>
<circle cx="461.7" cy="618.7" r="1.45"/>
<circle cx="462.8" cy="620.9" r="1.45"/>
<circle cx="463.9" cy="619.5" r="1.45"/>
<circle cx="465.0" cy="618.8" r="1.45"/>
<circle cx="466.1" cy="618.1" r="1.45"/>
<circle cx="467.2" cy="618.9" r="1.45"/>
<circle cx="468.3" cy="618.6" r="1.45"/>
<circle cx="469.4" cy="618.4" r="1.45"/>
<circle cx="470.5" cy="618.9" r="1.45"/>
<circle cx="471.5" cy="619.0" r="1.45"/>
<circle cx="472.6" cy="619.4" r="1.45"/>
<circle cx="473.7" cy="619.8" r="1.45"/>
<circle cx="474.8" cy="619.2" r="1.45"/>
<circle cx="475.9" cy="619.7" r="1.45"/>
<circle cx="477.0" cy="620.3" r="1.45"/>
<circle cx="478.1" cy="620.2" r="1.45"/>
<circle cx="479.2" cy="619.9" r="1.45"/>
<circle cx="480.3" cy="620.0" r="1.45"/>
<circle cx="481.3" cy="619.9" r="1.45"/>
<circle cx="482.4" cy="620.1" r="1.45"/>
<circle cx="483.5" cy="620.1" r="1.45"/>
<circle cx="484.6" cy="620.3" r="1.45"/>
<circle cx="485.7" cy="621.1" r="1.45"/>
<circle cx="486.8" cy="620.1" r="1.45"/>
<circle cx="487.9" cy="619.8" r="1.45"/>
<circle cx="489.0" cy="620.2" r="1.45"/>
<circle cx="490.0" cy="620.7" r="1.45"/>
<circle cx="491.1" cy="620.3" r="1.45"/>
<circle cx="492.2" cy="621.3" r="1.45"/>
<circle cx="493.3" cy="621.9" r="1.45"/>
<circle cx="494.4" cy="620.8" r="1.45"/>
<circle cx="495.5" cy="621.4" r="1.45"/>
<circle cx="496.6" cy="620.5" r="1.45"/>
<circle cx="497.7" cy="621.6" r="1.45"/>
<circle cx="498.8" cy="622.7" r="1.45"/>
<circle cx="499.8" cy="621.8" r="1.45"/>
<circle cx="500.9" cy="620.3" r="1.45"/>
<circle cx="502.0" cy="621.6" r="1.45"/>
<circle cx="503.1" cy="622.3" r="1.45"/>
<circle cx="504.2" cy="622.0" r="1.45"/>
<circle cx="505.3" cy="621.3" r="1.45"/>
<circle cx="506.4" cy="621.4" r="1.45"/>
<circle cx="507.5" cy="621.7" r="1.45"/>
<circle cx="508.5" cy="621.0" r="1.45"/>
<circle cx="509.6" cy="621.6" r="1.45"/>
<circle cx="510.7" cy="622.1" r="1.45"/>
<circle cx="511.8" cy="621.8" r="1.45"/>
<circle cx="512.9" cy="621.2" r="1.45"/>
<circle cx="514.0" cy="621.6" r="1.45"/>
<circle cx="515.1" cy="621.6" r="1.45"/>
<circle cx="516.2" cy="622.9" r="1.45"/>
<circle cx="517.3" cy="622.3" r="1.45"/>
<circle cx="518.3" cy="621.7" r="1.45"/>
<circle cx="519.4" cy="622.3" r="1.45"/>
<circle cx="520.5" cy="621.5" r="1.45"/>
<circle cx="521.6" cy="621.8" r="1.45"/>
<circle cx="522.7" cy="621.6" r="1.45"/>
<circle cx="523.8" cy="622.3" r="1.45"/>
<circle cx="524.9" cy="620.6" r="1.45"/>
<circle cx="526.0" cy="621.3" r="1.45"/>
<circle cx="527.1" cy="622.2" r="1.45"/>
<circle cx="528.1" cy="622.1" r="1.45"/>
<circle cx="529.2" cy="620.6" r="1.45"/>
<circle cx="530.3" cy="622.5" r="1.45"/>
<circle cx="531.4" cy="621.8" r="1.45"/>
<circle cx="532.5" cy="621.8" r="1.45"/>
<circle cx="533.6" cy="622.4" r="1.45"/>
<circle cx="534.7" cy="623.2" r="1.45"/>
<circle cx="535.8" cy="622.4" r="1.45"/>
<circle cx="536.8" cy="622.4" r="1.45"/>
<circle cx="537.9" cy="621.9" r="1.45"/>
<circle cx="539.0" cy="622.2" r="1.45"/>
<circle cx="540.1" cy="622.7" r="1.45"/>
<circle cx="541.2" cy="622.3" r="1.45"/>
<circle cx="542.3" cy="622.6" r="1.45"/>
<circle cx="543.4" cy="622.9" r="1.45"/>
<circle cx="544.5" cy="623.0" r="1.45"/>
<circle cx="545.6" cy="623.3" r="1.45"/>
<circle cx="546.6" cy="622.8" r="1.45"/>
<circle cx="547.7" cy="624.0" r="1.45"/>
<circle cx="548.8" cy="623.8" r="1.45"/>
<circle cx="549.9" cy="623.5" r="1.45"/>
<circle cx="551.0" cy="624.5" r="1.45"/>
<circle cx="552.1" cy="624.0" r="1.45"/>
<circle cx="553.2" cy="625.0" r="1.45"/>
<circle cx="554.3" cy="624.3" r="1.45"/>
<circle cx="555.4" cy="623.6" r="1.45"/>
<circle cx="556.4" cy="623.7" r="1.45"/>
<circle cx="557.5" cy="624.2" r="1.45"/>
<circle cx="558.6" cy="624.2" r="1.45"/>
<circle cx="559.7" cy="624.9" r="1.45"/>
<circle cx="560.8" cy="622.9" r="1.45"/>
<circle cx="561.9" cy="623.6" r="1.45"/>
<circle cx="563.0" cy="623.2" r="1.45"/>
<circle cx="564.1" cy="624.4" r="1.45"/>
<circle cx="565.1" cy="623.9" r="1.45"/>
<circle cx="566.2" cy="624.9" r="1.45"/>
<circle cx="567.3" cy="623.2" r="1.45"/>
<circle cx="568.4" cy="623.1" r="1.45"/>
<circle cx="569.5" cy="624.7" r="1.45"/>
<circle cx="570.6" cy="623.6" r="1.45"/>
<circle cx="571.7" cy="623.1" r="1.45"/>
<circle cx="572.8" cy="624.5" r="1.45"/>
<circle cx="573.9" cy="624.5" r="1.45"/>
<circle cx="574.9" cy="624.0" r="1.45"/>
<circle cx="576.0" cy="623.7" r="1.45"/>
<circle cx="577.1" cy="624.1" r="1.45"/>
<circle cx="578.2" cy="623.1" r="1.45"/>
<circle cx="579.3" cy="623.0" r="1.45"/>
<circle cx="580.4" cy="622.7" r="1.45"/>
<circle cx="581.5" cy="622.6" r="1.45"/>
<circle cx="582.6" cy="622.0" r="1.45"/>
<circle cx="583.7" cy="622.2" r="1.45"/>
<circle cx="584.7" cy="623.8" r="1.45"/>
<circle cx="585.8" cy="623.4" r="1.45"/>
<circle cx="586.9" cy="623.9" r="1.45"/>
<circle cx="588.0" cy="624.0" r="1.45"/>
<circle cx="589.1" cy="623.5" r="1.45"/>
<circle cx="590.2" cy="623.5" r="1.45"/>
<circle cx="591.3" cy="623.3" r="1.45"/>
<circle cx="592.4" cy="624.7" r="1.45"/>
<circle cx="593.4" cy="624.5" r="1.45"/>
<circle cx="594.5" cy="623.9" r="1.45"/>
<circle cx="595.6" cy="624.1" r="1.45"/>
<circle cx="596.7" cy="624.3" r="1.45"/>
<circle cx="597.8" cy="624.2" r="1.45"/>
<circle cx="598.9" cy="624.6" r="1.45"/>
<circle cx="600.0" cy="623.7" r="1.45"/>
<circle cx="601.1" cy="623.9" r="1.45"/>
<circle cx="602.2" cy="624.2" r="1.45"/>
<circle cx="603.2" cy="624.6" r="1.45"/>
<circle cx="604.3" cy="624.3" r="1.45"/>
<circle cx="605.4" cy="625.8" r="1.45"/>
<circle cx="606.5" cy="624.7" r="1.45"/>
<circle cx="607.6" cy="624.1" r="1.45"/>
<circle cx="608.7" cy="625.1" r="1.45"/>
<circle cx="609.8" cy="624.0" r="1.45"/>
<circle cx="610.9" cy="624.1" r="1.45"/>
<circle cx="612.0" cy="625.0" r="1.45"/>
<circle cx="613.0" cy="624.3" r="1.45"/>
<circle cx="614.1" cy="624.3" r="1.45"/>
<circle cx="615.2" cy="623.9" r="1.45"/>
<circle cx="616.3" cy="623.8" r="1.45"/>
<circle cx="617.4" cy="624.2" r="1.45"/>
<circle cx="618.5" cy="624.7" r="1.45"/>
<circle cx="619.6" cy="624.3" r="1.45"/>
<circle cx="620.7" cy="624.3" r="1.45"/>
<circle cx="621.7" cy="623.8" r="1.45"/>
<circle cx="622.8" cy="624.1" r="1.45"/>
<circle cx="623.9" cy="624.8" r="1.45"/>
<circle cx="625.0" cy="625.2" r="1.45"/>
<circle cx="626.1" cy="624.6" r="1.45"/>
<circle cx="627.2" cy="624.9" r="1.45"/>
<circle cx="628.3" cy="625.1" r="1.45"/>
<circle cx="629.4" cy="624.5" r="1.45"/>
<circle cx="630.5" cy="624.8" r="1.45"/>
<circle cx="631.5" cy="624.5" r="1.45"/>
<circle cx="632.6" cy="624.2" r="1.45"/>
<circle cx="633.7" cy="624.8" r="1.45"/>
<circle cx="634.8" cy="623.2" r="1.45"/>
<circle cx="635.9" cy="624.8" r="1.45"/>
<circle cx="637.0" cy="624.0" r="1.45"/>
<circle cx="638.1" cy="624.7" r="1.45"/>
<circle cx="639.2" cy="624.1" r="1.45"/>
<circle cx="640.2" cy="626.4" r="1.45"/>
<circle cx="641.3" cy="625.4" r="1.45"/>
<circle cx="642.4" cy="624.9" r="1.45"/>
<circle cx="643.5" cy="624.7" r="1.45"/>
<circle cx="644.6" cy="623.7" r="1.45"/>
<circle cx="645.7" cy="625.0" r="1.45"/>
<circle cx="646.8" cy="624.5" r="1.45"/>
<circle cx="647.9" cy="624.9" r="1.45"/>
<circle cx="649.0" cy="624.8" r="1.45"/>
<circle cx="650.0" cy="625.1" r="1.45"/>
<circle cx="651.1" cy="625.6" r="1.45"/>
<circle cx="652.2" cy="625.2" r="1.45"/>
<circle cx="653.3" cy="626.2" r="1.45"/>
<circle cx="654.4" cy="624.8" r="1.45"/>
<circle cx="655.5" cy="626.1" r="1.45"/>
<circle cx="656.6" cy="625.4" r="1.45"/>
<circle cx="657.7" cy="624.2" r="1.45"/>
<circle cx="658.8" cy="625.7" r="1.45"/>
<circle cx="659.8" cy="625.6" r="1.45"/>
<circle cx="660.9" cy="624.9" r="1.45"/>
<circle cx="662.0" cy="625.6" r="1.45"/>
<circle cx="663.1" cy="626.1" r="1.45"/>
<circle cx="664.2" cy="625.5" r="1.45"/>
<circle cx="665.3" cy="625.3" r="1.45"/>
<circle cx="666.4" cy="625.2" r="1.45"/>
<circle cx="667.5" cy="626.1" r="1.45"/>
<circle cx="668.5" cy="624.6" r="1.45"/>
<circle cx="669.6" cy="624.7" r="1.45"/>
<circle cx="670.7" cy="625.7" r="1.45"/>
<circle cx="671.8" cy="625.6" r="1.45"/>
<circle cx="672.9" cy="626.0" r="1.45"/>
<circle cx="674.0" cy="624.9" r="1.45"/>
<circle cx="675.1" cy="626.2" r="1.45"/>
<circle cx="676.2" cy="625.4" r="1.45"/>
<circle cx="677.3" cy="624.0" r="1.45"/>
<circle cx="678.3" cy="622.0" r="1.45"/>
<circle cx="679.4" cy="622.6" r="1.45"/>
<circle cx="680.5" cy="623.8" r="1.45"/>
<circle cx="681.6" cy="625.1" r="1.45"/>
<circle cx="682.7" cy="625.8" r="1.45"/>
<circle cx="683.8" cy="625.2" r="1.45"/>
<circle cx="684.9" cy="626.0" r="1.45"/>
<circle cx="686.0" cy="625.8" r="1.45"/>
<circle cx="687.1" cy="625.1" r="1.45"/>
<circle cx="688.1" cy="625.3" r="1.45"/>
<circle cx="689.2" cy="626.3" r="1.45"/>
<circle cx="690.3" cy="624.6" r="1.45"/>
<circle cx="691.4" cy="626.0" r="1.45"/>
<circle cx="692.5" cy="625.5" r="1.45"/>
<circle cx="693.6" cy="626.4" r="1.45"/>
<circle cx="694.7" cy="626.0" r="1.45"/>
<circle cx="695.8" cy="627.1" r="1.45"/>
<circle cx="696.8" cy="624.9" r="1.45"/>
<circle cx="697.9" cy="625.2" r="1.45"/>
<circle cx="699.0" cy="626.8" r="1.45"/>
<circle cx="700.1" cy="627.1" r="1.45"/>
<circle cx="701.2" cy="627.2" r="1.45"/>
<circle cx="702.3" cy="625.5" r="1.45"/>
<circle cx="703.4" cy="626.6" r="1.45"/>
<circle cx="704.5" cy="626.4" r="1.45"/>
<circle cx="705.6" cy="626.6" r="1.45"/>
<circle cx="706.6" cy="626.5" r="1.45"/>
<circle cx="707.7" cy="627.2" r="1.45"/>
<circle cx="708.8" cy="626.5" r="1.45"/>
<circle cx="709.9" cy="627.5" r="1.45"/>
<circle cx="711.0" cy="626.7" r="1.45"/>
<circle cx="712.1" cy="626.5" r="1.45"/>
<circle cx="713.2" cy="626.5" r="1.45"/>
<circle cx="714.3" cy="626.9" r="1.45"/>
<circle cx="715.4" cy="627.4" r="1.45"/>
<circle cx="716.4" cy="626.8" r="1.45"/>
<circle cx="717.5" cy="627.2" r="1.45"/>
<circle cx="718.6" cy="626.0" r="1.45"/>
<circle cx="719.7" cy="626.6" r="1.45"/>
<circle cx="720.8" cy="627.2" r="1.45"/>
<circle cx="721.9" cy="627.4" r="1.45"/>
<circle cx="723.0" cy="627.6" r="1.45"/>
<circle cx="724.1" cy="627.8" r="1.45"/>
<circle cx="725.1" cy="627.5" r="1.45"/>
<circle cx="726.2" cy="627.1" r="1.45"/>
<circle cx="727.3" cy="627.0" r="1.45"/>
<circle cx="728.4" cy="627.1" r="1.45"/>
<circle cx="729.5" cy="626.2" r="1.45"/>
<circle cx="730.6" cy="627.9" r="1.45"/>
<circle cx="731.7" cy="627.5" r="1.45"/>
<circle cx="732.8" cy="625.9" r="1.45"/>
<circle cx="733.9" cy="628.8" r="1.45"/>
<circle cx="734.9" cy="628.0" r="1.45"/>
<circle cx="736.0" cy="627.5" r="1.45"/>
<circle cx="737.1" cy="627.4" r="1.45"/>
<circle cx="738.2" cy="627.2" r="1.45"/>
<circle cx="739.3" cy="627.5" r="1.45"/>
<circle cx="740.4" cy="627.1" r="1.45"/>
<circle cx="741.5" cy="627.2" r="1.45"/>
<circle cx="742.6" cy="626.7" r="1.45"/>
<circle cx="743.7" cy="628.2" r="1.45"/>
<circle cx="744.7" cy="627.5" r="1.45"/>
<circle cx="745.8" cy="626.9" r="1.45"/>
<circle cx="746.9" cy="627.5" r="1.45"/>
<circle cx="748.0" cy="627.4" r="1.45"/>
<circle cx="749.1" cy="626.3" r="1.45"/>
<circle cx="750.2" cy="627.0" r="1.45"/>
<circle cx="751.3" cy="626.2" r="1.45"/>
<circle cx="752.4" cy="626.1" r="1.45"/>
<circle cx="753.4" cy="626.4" r="1.45"/>
<circle cx="754.5" cy="626.2" r="1.45"/>
<circle cx="755.6" cy="626.6" r="1.45"/>
<circle cx="756.7" cy="627.4" r="1.45"/>
<circle cx="757.8" cy="626.5" r="1.45"/>
<circle cx="758.9" cy="626.2" r="1.45"/>
<circle cx="760.0" cy="627.0" r="1.45"/>
<circle cx="761.1" cy="626.9" r="1.45"/>
<circle cx="762.2" cy="626.6" r="1.45"/>
<circle cx="763.2" cy="627.8" r="1.45"/>
<circle cx="764.3" cy="627.0" r="1.45"/>
<circle cx="765.4" cy="626.5" r="1.45"/>
<circle cx="766.5" cy="628.2" r="1.45"/>
<circle cx="767.6" cy="627.9" r="1.45"/>
<circle cx="768.7" cy="628.3" r="1.45"/>
<circle cx="769.8" cy="627.4" r="1.45"/>
<circle cx="770.9" cy="628.0" r="1.45"/>
<circle cx="771.9" cy="627.5" r="1.45"/>
<circle cx="773.0" cy="628.3" r="1.45"/>
<circle cx="774.1" cy="627.7" r="1.45"/>
<circle cx="775.2" cy="627.5" r="1.45"/>
<circle cx="776.3" cy="628.4" r="1.45"/>
<circle cx="777.4" cy="626.3" r="1.45"/>
<circle cx="778.5" cy="626.6" r="1.45"/>
<circle cx="779.6" cy="628.3" r="1.45"/>
<circle cx="780.7" cy="626.8" r="1.45"/>
<circle cx="781.7" cy="627.4" r="1.45"/>
<circle cx="782.8" cy="627.0" r="1.45"/>
<circle cx="783.9" cy="627.1" r="1.45"/>
<circle cx="785.0" cy="628.3" r="1.45"/>
<circle cx="786.1" cy="627.5" r="1.45"/>
<circle cx="787.2" cy="626.5" r="1.45"/>
<circle cx="788.3" cy="627.8" r="1.45"/>
<circle cx="789.4" cy="628.1" r="1.45"/>
<circle cx="790.5" cy="628.4" r="1.45"/>
<circle cx="791.5" cy="628.3" r="1.45"/>
<circle cx="792.6" cy="627.4" r="1.45"/>
<circle cx="793.7" cy="626.5" r="1.45"/>
<circle cx="794.8" cy="627.3" r="1.45"/>
<circle cx="795.9" cy="627.4" r="1.45"/>
<circle cx="797.0" cy="626.2" r="1.45"/>
<circle cx="798.1" cy="627.9" r="1.45"/>
<circle cx="799.2" cy="628.0" r="1.45"/>
<circle cx="800.2" cy="627.2" r="1.45"/>
<circle cx="801.3" cy="627.2" r="1.45"/>
<circle cx="802.4" cy="628.2" r="1.45"/>
<circle cx="803.5" cy="628.3" r="1.45"/>
<circle cx="804.6" cy="627.4" r="1.45"/>
<circle cx="805.7" cy="627.4" r="1.45"/>
<circle cx="806.8" cy="625.8" r="1.45"/>
<circle cx="807.9" cy="625.9" r="1.45"/>
<circle cx="809.0" cy="627.0" r="1.45"/>
<circle cx="810.0" cy="626.7" r="1.45"/>
<circle cx="811.1" cy="627.3" r="1.45"/>
<circle cx="812.2" cy="627.6" r="1.45"/>
<circle cx="813.3" cy="627.9" r="1.45"/>
<circle cx="814.4" cy="627.0" r="1.45"/>
<circle cx="815.5" cy="626.8" r="1.45"/>
<circle cx="816.6" cy="627.9" r="1.45"/>
<circle cx="817.7" cy="627.1" r="1.45"/>
<circle cx="818.8" cy="628.1" r="1.45"/>
<circle cx="819.8" cy="627.6" r="1.45"/>
<circle cx="820.9" cy="627.2" r="1.45"/>
<circle cx="822.0" cy="622.8" r="1.45"/>
<circle cx="823.1" cy="416.3" r="1.45"/>
<circle cx="824.2" cy="173.4" r="1.45"/>
<circle cx="825.3" cy="190.6" r="1.45"/>
<circle cx="826.4" cy="284.6" r="1.45"/>
<circle cx="827.5" cy="338.9" r="1.45"/>
<circle cx="828.5" cy="378.1" r="1.45"/>
<circle cx="829.6" cy="425.3" r="1.45"/>
<circle cx="830.7" cy="458.6" r="1.45"/>
<circle cx="831.8" cy="475.1" r="1.45"/>
<circle cx="832.9" cy="497.1" r="1.45"/>
<circle cx="834.0" cy="512.6" r="1.45"/>
<circle cx="835.1" cy="535.1" r="1.45"/>
<circle cx="836.2" cy="536.9" r="1.45"/>
<circle cx="837.3" cy="540.9" r="1.45"/>
<circle cx="838.3" cy="545.9" r="1.45"/>
<circle cx="839.4" cy="552.6" r="1.45"/>
<circle cx="840.5" cy="552.8" r="1.45"/>
<circle cx="841.6" cy="545.0" r="1.45"/>
<circle cx="842.7" cy="544.1" r="1.45"/>
<circle cx="843.8" cy="560.7" r="1.45"/>
<circle cx="844.9" cy="575.8" r="1.45"/>
<circle cx="846.0" cy="566.7" r="1.45"/>
<circle cx="847.1" cy="573.0" r="1.45"/>
<circle cx="848.1" cy="581.7" r="1.45"/>
<circle cx="849.2" cy="581.1" r="1.45"/>
<circle cx="850.3" cy="582.9" r="1.45"/>
<circle cx="851.4" cy="582.4" r="1.45"/>
<circle cx="852.5" cy="584.9" r="1.45"/>
</g>
<polyline points="72.8,620.2 73.9,619.8 75.0,619.9 76.0,620.0 77.1,620.2 78.2,620.3 79.3,620.0 80.4,619.8 81.5,619.4 82.6,619.2 83.7,619.4 84.8,619.5 85.8,620.1 86.9,620.0 88.0,620.0 89.1,619.9 90.2,620.0 91.3,620.6 92.4,621.0 93.5,621.2 94.5,620.8 95.6,620.4 96.7,620.1 97.8,620.2 98.9,620.2 100.0,620.1 101.1,620.4 102.2,619.9 103.3,619.8 104.3,619.6 105.4,619.5 106.5,620.1 107.6,620.2 108.7,620.5 109.8,620.2 110.9,619.9 112.0,619.9 113.0,620.0 114.1,620.3 115.2,620.0 116.3,620.0 117.4,619.6 118.5,619.3 119.6,619.9 120.7,619.6 121.8,619.2 122.8,619.7 123.9,619.3 125.0,619.3 126.1,619.7 127.2,619.0 128.3,618.9 129.4,619.1 130.5,618.6 131.6,618.4 132.6,618.1 133.7,617.3 134.8,617.3 135.9,617.3 137.0,617.7 138.1,617.8 139.2,617.9 140.3,618.0 141.3,617.8 142.4,618.1 143.5,617.9 144.6,617.4 145.7,617.4 146.8,617.4 147.9,617.1 149.0,617.0 150.1,616.2 151.1,616.2 152.2,616.7 153.3,616.8 154.4,617.0 155.5,616.7 156.6,615.7 157.7,615.4 158.8,614.9 159.9,614.2 160.9,613.9 162.0,613.3 163.1,612.7 164.2,612.2 165.3,611.6 166.4,611.9 167.5,611.2 168.6,610.6 169.6,610.1 170.7,609.7 171.8,609.8 172.9,609.5 174.0,609.8 175.1,609.0 176.2,608.2 177.3,608.1 178.4,606.5 179.4,605.6 180.5,605.2 181.6,604.2 182.7,603.8 183.8,603.3 184.9,603.2 186.0,604.4 187.1,605.0 188.2,604.6 189.2,603.7 190.3,601.7 191.4,599.8 192.5,598.8 193.6,598.1 194.7,597.8 195.8,597.6 196.9,597.7 197.9,597.3 199.0,596.4 200.1,596.6 201.2,596.4 202.3,596.9 203.4,598.0 204.5,598.0 205.6,598.4 206.7,598.2 207.7,598.1 208.8,598.4 209.9,598.8 211.0,599.1 212.1,599.4 213.2,599.8 214.3,600.4 215.4,601.5 216.5,602.1 217.5,602.6 218.6,602.5 219.7,602.3 220.8,602.6 221.9,602.9 223.0,603.5 224.1,603.6 225.2,603.9 226.2,604.0 227.3,603.8 228.4,604.9 229.5,605.3 230.6,605.7 231.7,606.3 232.8,606.0 233.9,606.3 235.0,606.7 236.0,607.3 237.1,607.9 238.2,607.7 239.3,608.1 240.4,608.7 241.5,608.9 242.6,609.7 243.7,609.9 244.7,610.3 245.8,610.3 246.9,609.9 248.0,610.0 249.1,609.3 250.2,609.0 251.3,609.1 252.4,608.8 253.5,609.3 254.5,609.8 255.6,610.3 256.7,610.7 257.8,610.2 258.9,610.8 260.0,610.5 261.1,610.9 262.2,610.9 263.3,610.6 264.3,610.8 265.4,610.2 266.5,610.3 267.6,609.9 268.7,609.7 269.8,609.8 270.9,609.7 272.0,609.3 273.0,609.1 274.1,609.1 275.2,608.4 276.3,608.8 277.4,608.7 278.5,608.7 279.6,609.3 280.7,609.1 281.8,609.6 282.8,609.7 283.9,610.3 285.0,611.0 286.1,611.1 287.2,611.5 288.3,611.5 289.4,611.6 290.5,611.6 291.6,611.5 292.6,611.2 293.7,611.4 294.8,612.0 295.9,612.7 297.0,613.1 298.1,612.9 299.2,613.4 300.3,613.1 301.3,613.2 302.4,613.7 303.5,614.0 304.6,614.2 305.7,614.6 306.8,614.8 307.9,614.4 309.0,614.7 310.1,614.4 311.1,614.6 312.2,614.5 313.3,614.3 314.4,614.2 315.5,613.7 316.6,613.5 317.7,612.9 318.8,612.7 319.9,612.3 320.9,611.7 322.0,612.0 323.1,612.6 324.2,612.8 325.3,613.6 326.4,613.5 327.5,613.2 328.6,613.3 329.6,613.1 330.7,613.3 331.8,613.5 332.9,613.2 334.0,613.3 335.1,613.3 336.2,613.1 337.3,613.1 338.4,613.3 339.4,613.3 340.5,614.1 341.6,614.7 342.7,615.0 343.8,615.1 344.9,615.1 346.0,615.1 347.1,614.9 348.2,615.3 349.2,615.3 350.3,615.5 351.4,615.2 352.5,615.4 353.6,615.4 354.7,615.4 355.8,615.9 356.9,616.3 357.9,616.7 359.0,616.8 360.1,617.2 361.2,617.2 362.3,617.0 363.4,617.1 364.5,616.8 365.6,616.4 366.7,616.4 367.7,616.6 368.8,616.7 369.9,616.8 371.0,616.4 372.1,616.1 373.2,615.8 374.3,615.7 375.4,616.2 376.4,616.1 377.5,616.2 378.6,616.0 379.7,616.3 380.8,616.2 381.9,616.1 383.0,616.7 384.1,616.1 385.2,616.2 386.2,616.6 387.3,616.4 388.4,616.5 389.5,616.5 390.6,615.9 391.7,615.5 392.8,615.5 393.9,615.3 395.0,615.2 396.0,615.2 397.1,615.3 398.2,615.9 399.3,616.1 400.4,616.1 401.5,616.5 402.6,616.3 403.7,615.5 404.7,614.7 405.8,613.6 406.9,612.7 408.0,613.9 409.1,614.8 410.2,615.5 411.3,616.4 412.4,616.4 413.5,616.5 414.5,617.1 415.6,617.1 416.7,617.2 417.8,617.3 418.9,617.2 420.0,617.2 421.1,617.6 422.2,617.8 423.3,617.7 424.3,617.7 425.4,617.7 426.5,617.8 427.6,617.5 428.7,617.3 429.8,617.0 430.9,617.4 432.0,617.9 433.0,618.0 434.1,617.8 435.2,617.2 436.3,617.4 437.4,617.4 438.5,618.2 439.6,618.1 440.7,618.0 441.8,618.4 442.8,617.8 443.9,617.9 445.0,618.5 446.1,618.8 447.2,619.3 448.3,619.9 449.4,619.9 450.5,620.3 451.6,620.2 452.6,620.0 453.7,619.8 454.8,619.2 455.9,618.3 457.0,617.6 458.1,616.6 459.2,616.2 460.3,617.1 461.3,617.6 462.4,618.7 463.5,619.2 464.6,619.1 465.7,618.9 466.8,618.4 467.9,618.2 469.0,618.1 470.1,618.3 471.1,618.3 472.2,618.5 473.3,618.9 474.4,618.9 475.5,619.1 476.6,619.3 477.7,619.4 478.8,619.6 479.9,619.7 480.9,619.6 482.0,619.6 483.1,619.6 484.2,619.7 485.3,620.0 486.4,620.0 487.5,619.9 488.6,619.9 489.6,619.8 490.7,619.8 491.8,620.2 492.9,620.6 494.0,620.7 495.1,620.9 496.2,620.7 497.3,620.7 498.4,621.2 499.4,621.2 500.5,621.2 501.6,621.2 502.7,621.1 503.8,621.1 504.9,621.4 506.0,621.3 507.1,621.2 508.1,620.9 509.2,621.0 510.3,621.2 511.4,621.2 512.5,621.3 513.6,621.3 514.7,621.2 515.8,621.4 516.9,621.7 517.9,621.7 519.0,621.9 520.1,621.6 521.2,621.4 522.3,621.4 523.4,621.4 524.5,621.1 525.6,621.0 526.7,621.2 527.7,621.2 528.8,621.2 529.9,621.5 531.0,621.4 532.1,621.3 533.2,621.7 534.3,621.9 535.4,622.1 536.4,622.2 537.5,622.1 538.6,621.8 539.7,621.9 540.8,621.9 541.9,622.1 543.0,622.2 544.1,622.3 545.2,622.6 546.2,622.6 547.3,622.9 548.4,623.1 549.5,623.1 550.6,623.6 551.7,623.6 552.8,623.9 553.9,624.1 555.0,623.8 556.0,623.8 557.1,623.6 558.2,623.5 559.3,623.9 560.4,623.6 561.5,623.5 562.6,623.3 563.7,623.1 564.7,623.4 565.8,623.7 566.9,623.7 568.0,623.4 569.1,623.6 570.2,623.2 571.3,623.2 572.4,623.6 573.5,623.5 574.5,623.6 575.6,623.8 576.7,623.7 577.8,623.3 578.9,623.1 580.0,622.8 581.1,622.4 582.2,622.2 583.3,622.0 584.3,622.3 585.4,622.5 586.5,622.9 587.6,623.4 588.7,623.3 589.8,623.3 590.9,623.2 592.0,623.3 593.0,623.6 594.1,623.7 595.2,623.9 596.3,623.8 597.4,623.7 598.5,623.9 599.6,623.8 600.7,623.7 601.8,623.7 602.8,623.7 603.9,623.8 605.0,624.3 606.1,624.4 607.2,624.3 608.3,624.5 609.4,624.1 610.5,623.9 611.6,624.1 612.6,623.9 613.7,624.0 614.8,624.0 615.9,623.7 617.0,623.6 618.1,623.7 619.2,623.8 620.3,624.0 621.3,623.9 622.4,623.7 623.5,623.9 624.6,624.1 625.7,624.3 626.8,624.5 627.9,624.5 629.0,624.4 630.1,624.4 631.1,624.3 632.2,624.1 633.3,624.2 634.4,623.8 635.5,623.9 636.6,623.8 637.7,623.8 638.8,624.0 639.8,624.4 640.9,624.8 642.0,624.8 643.1,624.9 644.2,624.3 645.3,624.2 646.4,624.1 647.5,624.1 648.6,624.4 649.6,624.4 650.7,624.7 651.8,624.8 652.9,625.1 654.0,625.0 655.1,625.2 656.2,625.2 657.3,624.7 658.4,625.0 659.4,624.8 660.5,624.7 661.6,625.0 662.7,625.1 663.8,625.1 664.9,625.2 666.0,625.1 667.1,625.1 668.1,624.9 669.2,624.8 670.3,624.9 671.4,624.7 672.5,625.1 673.6,625.1 674.7,625.3 675.8,625.2 676.9,624.7 677.9,624.0 679.0,623.1 680.1,622.7 681.2,623.0 682.3,623.9 683.4,624.6 684.5,625.1 685.6,625.3 686.7,625.1 687.7,625.1 688.8,625.2 689.9,624.9 691.0,625.1 692.1,625.2 693.2,625.2 694.3,625.6 695.4,625.8 696.4,625.7 697.5,625.4 698.6,625.6 699.7,625.6 700.8,626.2 701.9,626.2 703.0,626.2 704.1,626.0 705.2,625.9 706.2,626.1 707.3,626.3 708.4,626.3 709.5,626.5 710.6,626.6 711.7,626.4 712.8,626.4 713.9,626.3 715.0,626.4 716.0,626.5 717.1,626.7 718.2,626.5 719.3,626.3 720.4,626.3 721.5,626.4 722.6,626.8 723.7,627.1 724.7,627.2 725.8,627.1 726.9,627.0 728.0,626.8 729.1,626.5 730.2,626.7 731.3,626.8 732.4,626.5 733.5,627.1 734.5,627.2 735.6,627.2 736.7,627.5 737.8,627.1 738.9,627.0 740.0,626.9 741.1,626.8 742.2,626.7 743.3,626.9 744.3,627.0 745.4,626.9 746.5,627.1 747.6,626.9 748.7,626.6 749.8,626.6 750.9,626.3 752.0,626.0 753.0,626.1 754.1,625.9 755.2,625.9 756.3,626.3 757.4,626.3 758.5,626.3 759.6,626.4 760.7,626.3 761.8,626.3 762.8,626.7 763.9,626.7 765.0,626.6 766.1,627.0 767.2,627.0 768.3,627.3 769.4,627.5 770.5,627.5 771.5,627.4 772.6,627.4 773.7,627.5 774.8,627.3 775.9,627.6 777.0,627.1 778.1,626.8 779.2,627.0 780.3,626.6 781.3,626.9 782.4,627.0 783.5,626.7 784.6,627.0 785.7,627.1 786.8,627.0 787.9,627.1 789.0,627.1 790.1,627.3 791.1,627.7 792.2,627.6 793.3,627.2 794.4,627.0 795.5,626.7 796.6,626.5 797.7,626.8 798.8,627.0 799.8,626.9 800.9,627.2 802.0,627.3 803.1,627.3 804.2,627.4 805.3,627.4 806.4,626.8 807.5,626.2 808.6,626.1 809.6,625.9 810.7,626.3 811.8,626.7 812.9,627.0 814.0,627.1 815.1,626.9 816.2,627.0 817.3,626.8 818.4,627.1 819.4,627.3 820.5,627.1 821.6,626.0 822.7,573.1 823.8,459.5 824.9,350.4 826.0,265.8 827.1,246.4 828.1,297.6 829.2,356.3 830.3,399.8 831.4,433.9 832.5,463.6 833.6,485.5 834.7,504.6 835.8,520.0 836.9,531.0 837.9,539.3 839.0,543.7 840.1,547.6 841.2,548.7 842.3,548.2 843.4,550.2 844.5,556.0 845.6,561.4 846.7,568.6 847.7,573.9 848.8,575.2 849.9,579.3 851.0,581.6 852.1,582.4" fill="none" stroke="#0000ff" stroke-width="1.65" stroke-linejoin="round" stroke-linecap="round" filter="url(#sh)"/>
</g>
<g filter="url(#shb)"><rect x="85.5" y="91.5" width="120" height="63" fill="#fff" stroke="#000" stroke-width="1"/></g>
<rect x="93" y="98" width="26" height="8" fill="#dedede"/>
<line x1="93" y1="123.5" x2="119" y2="123.5" stroke="#f8f2f2" stroke-width="1"/>
<circle cx="106.3" cy="123.5" r="1.5" fill="#ff0000"/>
<line x1="92.5" y1="144" x2="119" y2="144" stroke="#0000ff" stroke-width="2"/>
<g font-size="12.3px" fill="#000">
<text x="122.6" y="106.3" textLength="63.6" lengthAdjust="spacingAndGlyphs">Recessions</text>
<text x="122.8" y="127.6" textLength="74.8" lengthAdjust="spacingAndGlyphs">Initial Claims</text>
<text x="122.3" y="148.2" textLength="71.4" lengthAdjust="spacingAndGlyphs" font-weight="bold" fill="#0000ff">4-Week MA</text>
</g>
<g filter="url(#shc)"><rect x="857.5" y="578.5" width="45" height="12" fill="#ffff00" stroke="#000" stroke-width="1"/></g>
<text x="880.5" y="588" font-size="10.67px" font-weight="bold" text-anchor="middle" textLength="38.4" lengthAdjust="spacingAndGlyphs">867,250</text>
<text x="213.99" y="32.6" font-size="19.6px" font-weight="bold" textLength="156.86" lengthAdjust="spacingAndGlyphs">Unemployment</text>
<text x="375.14" y="32.6" font-size="19.6px" font-weight="bold" textLength="95.76" lengthAdjust="spacingAndGlyphs">Insurance</text>
<text x="477.77" y="32.6" font-size="19.6px" font-weight="bold" textLength="72.80" lengthAdjust="spacingAndGlyphs">Weekly</text>
<text x="555.93" y="32.6" font-size="19.6px" font-weight="bold" textLength="67.16" lengthAdjust="spacingAndGlyphs">Claims</text>
<text x="628.00" y="32.6" font-size="19.6px" font-weight="bold" textLength="67.99" lengthAdjust="spacingAndGlyphs">Report</text>
<text x="208.40" y="59.9" font-size="18px" textLength="89.70" lengthAdjust="spacingAndGlyphs">Seasonally</text>
<text x="305.06" y="59.9" font-size="18px" textLength="75.24" lengthAdjust="spacingAndGlyphs">Adjusted</text>
<text x="386.39" y="59.9" font-size="18px" textLength="38.11" lengthAdjust="spacingAndGlyphs">with</text>
<text x="430.11" y="59.9" font-size="18px" textLength="27.25" lengthAdjust="spacingAndGlyphs">the</text>
<text x="463.98" y="59.9" font-size="18px" textLength="92.92" lengthAdjust="spacingAndGlyphs">Four-Week</text>
<text x="565.89" y="59.9" font-size="18px" textLength="60.87" lengthAdjust="spacingAndGlyphs">Moving</text>
<text x="633.18" y="59.9" font-size="18px" textLength="67.86" lengthAdjust="spacingAndGlyphs">Average</text>
<g fill="#1f497d">
<text x="744.05" y="17.6" font-size="13.33px" font-weight="bold" textLength="156.61" lengthAdjust="spacingAndGlyphs">advisorperspectives.com</text>
<text x="801.59" y="32.6" font-size="13.33px" font-weight="bold" textLength="49.89" lengthAdjust="spacingAndGlyphs">October</text>
<text x="856.30" y="32.6" font-size="13.33px" font-weight="bold" textLength="11.39" lengthAdjust="spacingAndGlyphs">1,</text>
<text x="871.73" y="32.6" font-size="13.33px" font-weight="bold" textLength="28.21" lengthAdjust="spacingAndGlyphs">2020</text>
<text x="775.40" y="47.6" font-size="13.33px" font-weight="bold" textLength="16.79" lengthAdjust="spacingAndGlyphs">As</text>
<text x="796.84" y="47.6" font-size="13.33px" font-weight="bold" textLength="12.82" lengthAdjust="spacingAndGlyphs">of</text>
<text x="813.12" y="47.6" font-size="13.33px" font-weight="bold" textLength="69.84" lengthAdjust="spacingAndGlyphs">September</text>
<text x="885.85" y="47.6" font-size="13.33px" font-weight="bold" textLength="14.07" lengthAdjust="spacingAndGlyphs">26</text>
</g>
<circle cx="21.4" cy="21.4" r="8.9" fill="none" stroke="#b3923c" stroke-width="1.4"/>
<polygon points="21.40,10.90 22.64,18.40 25.71,17.09 24.40,20.16 31.90,21.40 24.40,22.64 25.71,25.71 22.64,24.40 21.40,31.90 20.16,24.40 17.09,25.71 18.40,22.64 10.90,21.40 18.40,20.16 17.09,17.09 20.16,18.40" fill="#7a1216"/>
<text x="33.3" y="20.7" font-size="14.5px" font-weight="bold" fill="#7a1418" textLength="62" lengthAdjust="spacingAndGlyphs">ADVISOR</text>
<text x="32.3" y="31.7" font-size="14.6px" fill="#b39445" textLength="94.8" lengthAdjust="spacingAndGlyphs">PERSPECTIVES</text>
<rect x="79.75" y="319.75" width="316.5" height="208.8" rx="1.5" fill="#fff" stroke="#4f81bd" stroke-width="3.5"/>
<text x="238.8" y="337.9" font-size="12.7px" font-weight="bold" text-anchor="middle" textLength="140" lengthAdjust="spacingAndGlyphs">Most Recent 12 Months</text>
<g fill="#a4a4a4" shape-rendering="crispEdges">
<rect x="114" y="349" width="1" height="155" fill="#858585"/>
<rect x="135" y="349" width="1" height="155" fill="#a4a4a4"/>
<rect x="155" y="349" width="1" height="155" fill="#a4a4a4"/>
<rect x="176" y="349" width="1" height="155" fill="#a4a4a4"/>
<rect x="196" y="349" width="1" height="155" fill="#a4a4a4"/>
<rect x="217" y="349" width="1" height="155" fill="#a4a4a4"/>
<rect x="237" y="349" width="1" height="155" fill="#a4a4a4"/>
<rect x="258" y="349" width="1" height="155" fill="#a4a4a4"/>
<rect x="279" y="349" width="1" height="155" fill="#a4a4a4"/>
<rect x="299" y="349" width="1" height="155" fill="#a4a4a4"/>
<rect x="320" y="349" width="1" height="155" fill="#a4a4a4"/>
<rect x="340" y="349" width="1" height="155" fill="#a4a4a4"/>
<rect x="361" y="349" width="1" height="155" fill="#a4a4a4"/>
<rect x="381" y="349" width="1" height="155" fill="#858585"/>
</g>
<g fill="#858585" shape-rendering="crispEdges">
<rect x="114" y="349" width="269" height="1"/>
<rect x="114" y="368" width="269" height="1"/>
<rect x="114" y="387" width="269" height="1"/>
<rect x="114" y="407" width="269" height="1"/>
<rect x="114" y="426" width="269" height="1"/>
<rect x="114" y="445" width="269" height="1"/>
<rect x="114" y="464" width="269" height="1"/>
<rect x="114" y="484" width="269" height="1"/>
<rect x="114" y="503" width="269" height="1"/>
</g>
<g font-size="8.9px" font-weight="bold" fill="#000" text-anchor="end">
<text x="106.4" y="352.4" textLength="20.9" lengthAdjust="spacingAndGlyphs">8,185</text>
<text x="106.4" y="371.7" textLength="20.9" lengthAdjust="spacingAndGlyphs">7,185</text>
<text x="106.4" y="390.9" textLength="20.9" lengthAdjust="spacingAndGlyphs">6,185</text>
<text x="106.4" y="410.2" textLength="20.9" lengthAdjust="spacingAndGlyphs">5,185</text>
<text x="106.4" y="429.4" textLength="20.9" lengthAdjust="spacingAndGlyphs">4,185</text>
<text x="106.4" y="448.7" textLength="20.9" lengthAdjust="spacingAndGlyphs">3,185</text>
<text x="106.4" y="467.9" textLength="20.9" lengthAdjust="spacingAndGlyphs">2,185</text>
<text x="106.4" y="487.2" textLength="20.9" lengthAdjust="spacingAndGlyphs">1,185</text>
<text x="106.4" y="506.4" textLength="12.4" lengthAdjust="spacingAndGlyphs">185</text>
</g>
<g font-size="9.3px" font-weight="bold" fill="#000" text-anchor="middle">
<text x="115.1" y="519.8" textLength="16.4" lengthAdjust="spacingAndGlyphs">Sep</text>
<text x="156.3" y="519.8" textLength="17.2" lengthAdjust="spacingAndGlyphs">Nov</text>
<text x="197.4" y="519.8" textLength="14.4" lengthAdjust="spacingAndGlyphs">Jan</text>
<text x="238.6" y="519.8" textLength="17.8" lengthAdjust="spacingAndGlyphs">Mar</text>
<text x="279.7" y="519.8" textLength="19.8" lengthAdjust="spacingAndGlyphs">May</text>
<text x="320.9" y="519.8" textLength="12.1" lengthAdjust="spacingAndGlyphs">Jul</text>
<text x="362.1" y="519.8" textLength="16.0" lengthAdjust="spacingAndGlyphs">Sep</text>
</g>
<g clip-path="url(#ci)">
<polyline points="109.1,503.1 113.8,503.0 118.6,502.8 123.3,502.5 128.0,502.8 132.7,502.8 137.5,502.4 142.2,502.9 146.9,502.9 151.7,502.7 156.4,502.7 161.1,503.0 165.8,503.0 170.6,502.8 175.3,502.8 180.0,502.3 184.8,502.4 189.5,502.7 194.2,502.6 198.9,502.8 203.7,502.8 208.4,502.9 213.1,502.7 217.9,502.6 222.6,502.9 227.3,502.7 232.0,503.0 236.8,502.8 241.5,502.7 246.2,501.5 251.0,443.3 255.7,374.9 260.4,379.8 265.1,406.3 269.9,421.5 274.6,432.6 279.3,445.9 284.1,455.3 288.8,459.9 293.5,466.1 298.2,470.4 303.0,476.8 307.7,477.3 312.4,478.4 317.2,479.8 321.9,481.7 326.6,481.8 331.3,479.6 336.1,479.3 340.8,484.0 345.5,488.2 350.3,485.7 355.0,487.5 359.7,489.9 364.4,489.7 369.2,490.3 373.9,490.1 378.6,490.8" fill="none" stroke="#dc5050" stroke-width="0.9"/>
<g fill="#cc0000">
<circle cx="109.1" cy="503.1" r="2.5"/>
<circle cx="113.8" cy="503.0" r="2.5"/>
<circle cx="118.6" cy="502.8" r="2.5"/>
<circle cx="123.3" cy="502.5" r="2.5"/>
<circle cx="128.0" cy="502.8" r="2.5"/>
<circle cx="132.7" cy="502.8" r="2.5"/>
<circle cx="137.5" cy="502.4" r="2.5"/>
<circle cx="142.2" cy="502.9" r="2.5"/>
<circle cx="146.9" cy="502.9" r="2.5"/>
<circle cx="151.7" cy="502.7" r="2.5"/>
<circle cx="156.4" cy="502.7" r="2.5"/>
<circle cx="161.1" cy="503.0" r="2.5"/>
<circle cx="165.8" cy="503.0" r="2.5"/>
<circle cx="170.6" cy="502.8" r="2.5"/>
<circle cx="175.3" cy="502.8" r="2.5"/>
<circle cx="180.0" cy="502.3" r="2.5"/>
<circle cx="184.8" cy="502.4" r="2.5"/>
<circle cx="189.5" cy="502.7" r="2.5"/>
<circle cx="194.2" cy="502.6" r="2.5"/>
<circle cx="198.9" cy="502.8" r="2.5"/>
<circle cx="203.7" cy="502.8" r="2.5"/>
<circle cx="208.4" cy="502.9" r="2.5"/>
<circle cx="213.1" cy="502.7" r="2.5"/>
<circle cx="217.9" cy="502.6" r="2.5"/>
<circle cx="222.6" cy="502.9" r="2.5"/>
<circle cx="227.3" cy="502.7" r="2.5"/>
<circle cx="232.0" cy="503.0" r="2.5"/>
<circle cx="236.8" cy="502.8" r="2.5"/>
<circle cx="241.5" cy="502.7" r="2.5"/>
<circle cx="246.2" cy="501.5" r="2.5"/>
<circle cx="251.0" cy="443.3" r="2.5"/>
<circle cx="255.7" cy="374.9" r="2.5"/>
<circle cx="260.4" cy="379.8" r="2.5"/>
<circle cx="265.1" cy="406.3" r="2.5"/>
<circle cx="269.9" cy="421.5" r="2.5"/>
<circle cx="274.6" cy="432.6" r="2.5"/>
<circle cx="279.3" cy="445.9" r="2.5"/>
<circle cx="284.1" cy="455.3" r="2.5"/>
<circle cx="288.8" cy="459.9" r="2.5"/>
<circle cx="293.5" cy="466.1" r="2.5"/>
<circle cx="298.2" cy="470.4" r="2.5"/>
<circle cx="303.0" cy="476.8" r="2.5"/>
<circle cx="307.7" cy="477.3" r="2.5"/>
<circle cx="312.4" cy="478.4" r="2.5"/>
<circle cx="317.2" cy="479.8" r="2.5"/>
<circle cx="321.9" cy="481.7" r="2.5"/>
<circle cx="326.6" cy="481.8" r="2.5"/>
<circle cx="331.3" cy="479.6" r="2.5"/>
<circle cx="336.1" cy="479.3" r="2.5"/>
<circle cx="340.8" cy="484.0" r="2.5"/>
<circle cx="345.5" cy="488.2" r="2.5"/>
<circle cx="350.3" cy="485.7" r="2.5"/>
<circle cx="355.0" cy="487.5" r="2.5"/>
<circle cx="359.7" cy="489.9" r="2.5"/>
<circle cx="364.4" cy="489.7" r="2.5"/>
<circle cx="369.2" cy="490.3" r="2.5"/>
<circle cx="373.9" cy="490.1" r="2.5"/>
<circle cx="378.6" cy="490.8" r="2.5"/>
</g>
<polyline points="109.1,502.9 113.8,503.0 118.6,503.0 123.3,502.9 128.0,502.8 132.7,502.7 137.5,502.6 142.2,502.7 146.9,502.8 151.7,502.8 156.4,502.8 161.1,502.9 165.8,502.9 170.6,502.9 175.3,502.9 180.0,502.7 184.8,502.6 189.5,502.5 194.2,502.5 198.9,502.6 203.7,502.7 208.4,502.8 213.1,502.8 217.9,502.8 222.6,502.8 227.3,502.7 232.0,502.8 236.8,502.9 241.5,502.8 246.2,502.5 251.0,487.6 255.7,455.6 260.4,424.9 265.1,401.1 269.9,395.6 274.6,410.0 279.3,426.6 284.1,438.8 288.8,448.4 293.5,456.8 298.2,462.9 303.0,468.3 307.7,472.7 312.4,475.7 317.2,478.1 321.9,479.3 326.6,480.4 331.3,480.7 336.1,480.6 340.8,481.2 345.5,482.8 350.3,484.3 355.0,486.4 359.7,487.8 364.4,488.2 369.2,489.3 373.9,490.0 378.6,490.2" fill="none" stroke="#0000ff" stroke-width="3.5" stroke-linejoin="round" stroke-linecap="butt"/>
</g>
<g fill="#808080" shape-rendering="crispEdges"><rect x="0" y="0" width="910" height="1"/><rect x="0" y="660" width="910" height="1"/><rect x="0" y="0" width="1" height="661"/><rect x="909" y="0" width="1" height="661"/></g>
</svg></body></html>
